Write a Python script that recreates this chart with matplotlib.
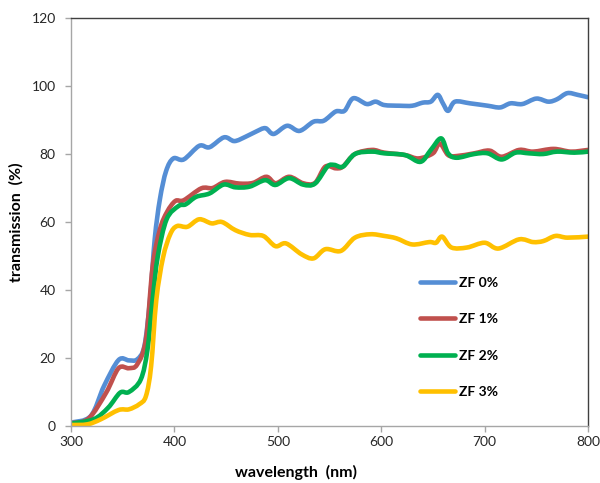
import numpy as np
import matplotlib.pyplot as plt
from matplotlib.path import Path
from matplotlib.patches import PathPatch
from matplotlib.lines import Line2D

plt.rcParams['font.family'] = ['Lato', 'DejaVu Sans']

# series: wavelength (nm) / transmission (%)
wl_0 = [300, 319, 332, 346, 356, 364, 371, 376.5, 381, 386, 392, 399, 409, 424, 434, 448, 458, 469, 479, 488,
        496, 509, 521, 534.5, 544.5, 556, 564.5, 573, 586, 594.6, 603, 618, 630, 640, 648, 654.7, 659.7, 664.7,
        671.4, 686, 703, 715, 725, 736.5, 750, 761.6, 770, 780, 790, 800]
tr_0 = [1, 2.9, 11.8, 19.4, 19.3, 19.6, 23.5, 37.3, 55, 66.7, 75, 78.7, 78.4, 82.4, 82, 84.9, 83.8, 85.1, 86.6, 87.6,
        85.9, 88.3, 86.8, 89.5, 89.8, 92.5, 92.7, 96.4, 94.7, 95.4, 94.4, 94.2, 94.2, 95.1, 95.4, 97.4, 94.9, 92.7,
        95.4, 94.9, 94.2, 93.7, 94.9, 94.7, 96.3, 95.4, 96.1, 97.9, 97.4, 96.7]

wl_1 = [300, 317, 334, 346, 356, 364, 372.5, 379, 386, 393, 401, 409, 426, 437, 449, 463, 476, 489, 498, 511,
        524.5, 536, 546, 556, 563, 574.6, 591, 603, 623, 636, 650, 656.6, 664.7, 673, 690, 704.7, 716.5, 733.4,
        746.8, 766.6, 783.4, 800]
tr_1 = [0.8, 2.2, 9.8, 17, 17, 18.1, 25.5, 47, 57.8, 63, 66.2, 66.4, 69.9, 70, 71.8, 71.3, 71.5, 73.3, 71.4, 73.3,
        71.4, 71.5, 76.3, 75.8, 76.3, 80, 81.2, 80.4, 79.7, 78.7, 80.2, 83.1, 79.7, 79.4, 80.2, 81, 79.2, 81.2,
        80.7, 81.5, 80.7, 81.2]

wl_2 = [300, 322, 336, 347.5, 356, 367.5, 374, 379, 384, 392.5, 404, 411, 421, 434, 447.6, 459, 472.7, 487.7,
        497.7, 511, 524.5, 536, 548, 554.5, 563, 574.6, 591, 603, 623, 638, 648, 658, 664.7, 673, 690, 703, 716.5,
        730, 743, 756.6, 770, 786.7, 800]
tr_2 = [0.7, 2, 5.4, 9.8, 10, 13.7, 22.5, 37.3, 50, 60.8, 64.7, 65.2, 67.4, 68.4, 71, 70.2, 70.4, 72.3, 70.9, 72.9,
        71, 71.3, 76.3, 76.8, 76.3, 80, 80.7, 80.2, 79.7, 77.7, 81.2, 84.6, 80.2, 78.9, 80, 80.2, 78.4, 80.4, 80.2,
        80, 80.7, 80.4, 80.7]

wl_3 = [300, 316, 329, 346, 356, 366, 372.5, 377.5, 382.5, 389, 396, 402.5, 412.6, 424, 436, 446, 459, 472.7, 486,
        497.7, 508, 523, 534.5, 546, 561, 574.6, 589.6, 603, 614.7, 630, 646.5, 653, 659, 668, 683, 700, 713.4,
        733.4, 746.8, 756.8, 768.5, 780, 800]
tr_3 = [0.3, 0.5, 2, 4.7, 4.9, 6.4, 8.8, 17.6, 37, 49.5, 56.4, 58.8, 58.6, 60.8, 59.6, 60, 57.6, 56.2, 55.9, 52.9,
        53.7, 50.5, 49.3, 52, 51.5, 55.4, 56.4, 55.9, 55.2, 53.4, 54.1, 53.9, 55.7, 52.5, 52.5, 53.9, 52.2, 54.9,
        54.1, 54.4, 55.9, 55.4, 55.7]

labels = ['ZF 0%', 'ZF 1%', 'ZF 2%', 'ZF 3%']
colors = ['#558ED5', '#C0504D', '#00B050', '#FFC000']


# excel "smoothed line": bezier segments through the measured points
def smooth_path(x, y):
    p = np.column_stack([x, y]).astype(float)
    n = len(p)
    verts = [p[0]]
    codes = [Path.MOVETO]
    for i in range(n - 1):
        p0 = p[max(i - 1, 0)]
        p1 = p[i]
        p2 = p[i + 1]
        p3 = p[min(i + 2, n - 1)]
        c1 = p1 + (p2 - p0) / 6
        c2 = p2 - (p3 - p1) / 6
        verts += [c1, c2, p2]
        codes += [Path.CURVE4] * 3
    return Path(verts, codes)


fig = plt.figure(figsize=(6, 4.83), dpi=100)
ax = fig.add_axes([0.1183, 0.118, 0.8617, 0.8447])

handles = []
for x, y, lab, c in zip([wl_0, wl_1, wl_2, wl_3], [tr_0, tr_1, tr_2, tr_3], labels, colors):
    ax.add_patch(PathPatch(smooth_path(x, y), facecolor='none', edgecolor=c, lw=3.3,
                           joinstyle='round', capstyle='round'))
    handles.append(Line2D([], [], color=c, lw=3.3, solid_capstyle='round', label=lab))

ax.set_xlim(300, 800)
ax.set_ylim(0, 120)
ax.set_xticks(range(300, 801, 100))
ax.set_yticks(range(0, 121, 20))

# excel-like frame
ax.spines['left'].set_color('#a6a6a6')
ax.spines['bottom'].set_color('#a6a6a6')
ax.spines['top'].set_color('#404040')
ax.spines['right'].set_color('#404040')
for s in ax.spines.values():
    s.set_linewidth(1)
ax.tick_params(axis='both', direction='out', length=4, width=1, color='#a6a6a6',
               labelsize=10, labelcolor='#262626')
ax.tick_params(axis='y', pad=7)
ax.tick_params(axis='x', pad=3)

fig.text(0.027, 0.540, 'transmission  (%)', rotation=90, ha='center', va='center',
         fontsize=11.5, fontweight='bold')
fig.text(0.494, 0.021, 'wavelength  (nm)', ha='center', va='center', fontsize=11.5, fontweight='bold')

ax.legend(handles=handles, loc='upper left', bbox_to_anchor=(420 / 600, 1 - 277 / 483),
          bbox_transform=fig.transFigure, frameon=False, prop={'weight': 'bold', 'size': 10},
          handlelength=2.5, handletextpad=0.3, labelspacing=1.75, borderpad=0, borderaxespad=0)

fig.savefig('out.png', dpi=100)
